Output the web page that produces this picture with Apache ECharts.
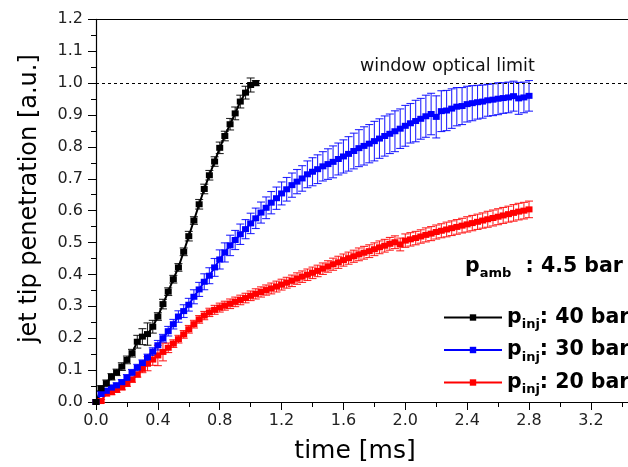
<!DOCTYPE html>
<html>
<head>
<meta charset="utf-8">
<script src="https://cdn.jsdelivr.net/npm/echarts@6/dist/echarts.min.js"></script>
<style>
  html, body { margin: 0; padding: 0; background: #fff; }
  #chart { width: 628px; height: 467px; }
</style>
</head>
<body>
<div id="chart"></div>
<script>
// Frame times of the high-speed recording [ms]
const timeMs = [
  0, 0.033, 0.067, 0.1, 0.133, 0.167, 0.2, 0.233, 0.267, 0.3,
  0.333, 0.367, 0.4, 0.433, 0.467, 0.5, 0.533, 0.567, 0.6, 0.633,
  0.667, 0.7, 0.733, 0.767, 0.8, 0.833, 0.867, 0.9, 0.933, 0.967,
  1.0, 1.033, 1.067, 1.1, 1.133, 1.167, 1.2, 1.233, 1.267, 1.3,
  1.333, 1.367, 1.4, 1.433, 1.467, 1.5, 1.533, 1.567, 1.6, 1.633,
  1.667, 1.7, 1.733, 1.767, 1.8, 1.833, 1.867, 1.9, 1.933, 1.967,
  2.0, 2.033, 2.067, 2.1, 2.133, 2.167, 2.2, 2.233, 2.267, 2.3,
  2.333, 2.367, 2.4, 2.433, 2.467, 2.5, 2.533, 2.567, 2.6, 2.633,
  2.667, 2.7, 2.733, 2.767, 2.8
];

// Jet tip penetration, p_inj = 40 bar (mean and std. deviation)
const pInj40 = [
  0, 0.043, 0.059, 0.079, 0.093, 0.111, 0.132, 0.153, 0.189, 0.205,
  0.213, 0.236, 0.268, 0.307, 0.346, 0.385, 0.422, 0.471, 0.520, 0.569,
  0.620, 0.668, 0.711, 0.754, 0.797, 0.834, 0.871, 0.905, 0.942, 0.970,
  0.994, 1.000
];
const pInj40Err = [
  0, 0.008, 0.010, 0.010, 0.010, 0.012, 0.012, 0.012, 0.020, 0.025,
  0.035, 0.020, 0.012, 0.015, 0.012, 0.012, 0.012, 0.012, 0.015, 0.012,
  0.015, 0.015, 0.015, 0.015, 0.018, 0.015, 0.018, 0.020, 0.020, 0.020,
  0.022, 0.008
];

// p_inj = 30 bar
const pInj30 = [
  0, 0.025, 0.035, 0.045, 0.052, 0.062, 0.076, 0.092, 0.108, 0.122,
  0.140, 0.158, 0.178, 0.200, 0.222, 0.244, 0.268, 0.285, 0.305, 0.330,
  0.353, 0.377, 0.396, 0.422, 0.447, 0.469, 0.491, 0.508, 0.526, 0.542,
  0.560, 0.576, 0.594, 0.609, 0.625, 0.639, 0.654, 0.667, 0.680, 0.691,
  0.701, 0.714, 0.722, 0.730, 0.739, 0.746, 0.753, 0.762, 0.770, 0.778,
  0.787, 0.796, 0.803, 0.810, 0.818, 0.826, 0.834, 0.841, 0.849, 0.857,
  0.866, 0.874, 0.881, 0.888, 0.896, 0.903, 0.894, 0.912, 0.914, 0.920,
  0.926, 0.928, 0.934, 0.937, 0.940, 0.942, 0.946, 0.948, 0.951, 0.953,
  0.955, 0.959, 0.952, 0.955, 0.960
];
const pInj30Err = [
  0, 0.008, 0.008, 0.008, 0.008, 0.008, 0.010, 0.010, 0.010, 0.010,
  0.010, 0.012, 0.015, 0.012, 0.015, 0.015, 0.018, 0.020, 0.020, 0.022,
  0.022, 0.025, 0.025, 0.028, 0.030, 0.030, 0.032, 0.030, 0.032, 0.030,
  0.032, 0.032, 0.033, 0.034, 0.035, 0.035, 0.036, 0.037, 0.038, 0.038,
  0.040, 0.042, 0.044, 0.045, 0.046, 0.048, 0.050, 0.050, 0.052, 0.054,
  0.056, 0.058, 0.060, 0.060, 0.062, 0.062, 0.063, 0.062, 0.064, 0.062,
  0.064, 0.062, 0.065, 0.064, 0.066, 0.065, 0.066, 0.064, 0.063, 0.062,
  0.060, 0.058, 0.056, 0.055, 0.053, 0.052, 0.050, 0.050, 0.050, 0.048,
  0.048, 0.047, 0.050, 0.048, 0.048
];

// p_inj = 20 bar
const pInj20 = [
  0, 0.003, 0.027, 0.031, 0.038, 0.046, 0.057, 0.070, 0.086, 0.104,
  0.120, 0.133, 0.146, 0.157, 0.170, 0.183, 0.197, 0.212, 0.228, 0.244,
  0.259, 0.271, 0.281, 0.289, 0.296, 0.302, 0.308, 0.314, 0.320, 0.326,
  0.333, 0.339, 0.345, 0.351, 0.356, 0.362, 0.368, 0.374, 0.380, 0.387,
  0.393, 0.399, 0.405, 0.411, 0.418, 0.425, 0.432, 0.438, 0.445, 0.451,
  0.457, 0.463, 0.468, 0.473, 0.479, 0.485, 0.490, 0.496, 0.501, 0.494,
  0.506, 0.510, 0.514, 0.519, 0.524, 0.528, 0.533, 0.537, 0.541, 0.545,
  0.549, 0.553, 0.557, 0.561, 0.565, 0.569, 0.573, 0.577, 0.581, 0.585,
  0.589, 0.593, 0.597, 0.600, 0.604
];
const pInj20Err = [
  0, 0.005, 0.008, 0.008, 0.008, 0.008, 0.008, 0.008, 0.008, 0.012,
  0.022, 0.018, 0.032, 0.028, 0.015, 0.012, 0.012, 0.012, 0.012, 0.012,
  0.012, 0.013, 0.013, 0.014, 0.014, 0.014, 0.015, 0.015, 0.015, 0.015,
  0.015, 0.016, 0.016, 0.016, 0.017, 0.017, 0.017, 0.017, 0.018, 0.018,
  0.018, 0.018, 0.018, 0.018, 0.018, 0.018, 0.019, 0.019, 0.019, 0.019,
  0.019, 0.020, 0.020, 0.020, 0.020, 0.020, 0.020, 0.020, 0.020, 0.020,
  0.021, 0.021, 0.021, 0.021, 0.022, 0.022, 0.022, 0.022, 0.023, 0.023,
  0.023, 0.023, 0.024, 0.024, 0.024, 0.024, 0.025, 0.025, 0.025, 0.025,
  0.025, 0.026, 0.026, 0.026, 0.026
];

const seriesNames = ['40 bar', '30 bar', '20 bar'];
const seriesColors = ['#000000', '#0000ff', '#ff0000'];
const opticalLimit = 1.0;

// Time axis: visible window ends a little past 3.4 ms
const xMax = 3.44;
const xMajorTicks = [0, 0.4, 0.8, 1.2, 1.6, 2.0, 2.4, 2.8, 3.2];
const xMinorTicks = [0.2, 0.6, 1.0, 1.4, 1.8, 2.2, 2.6, 3.0, 3.4];
const yRange = { min: 0, max: 1.2, interval: 0.1 };

const FONT = 'DejaVu Sans';

function points(vals) {
  return vals.map((v, i) => [timeMs[i], v]);
}

function errorData(vals, errs) {
  const out = [];
  vals.forEach((v, i) => {
    if (errs[i] > 0) out.push([timeMs[i], v - errs[i], v + errs[i]]);
  });
  return out;
}

function lineSeries(name, vals, color, extra) {
  return Object.assign({
    name: name,
    type: 'line',
    data: points(vals),
    symbol: 'rect',
    symbolSize: [7, 6],
    showSymbol: true,
    color: color,
    lineStyle: { color: color, width: 2 },
    itemStyle: { color: color },
    z: 3
  }, extra || {});
}

function errorSeries(vals, errs, color) {
  return {
    type: 'custom',
    data: errorData(vals, errs),
    encode: { x: 0, y: [1, 2] },
    silent: true,
    z: 2,
    renderItem: function (params, api) {
      const x = api.value(0);
      const lo = api.coord([x, api.value(1)]);
      const hi = api.coord([x, api.value(2)]);
      const half = 4;
      const style = { stroke: color, lineWidth: 1.1, opacity: 0.85 };
      return {
        type: 'group',
        children: [
          { type: 'line', shape: { x1: lo[0], y1: lo[1], x2: hi[0], y2: hi[1] }, style: style },
          { type: 'line', shape: { x1: hi[0] - half, y1: hi[1], x2: hi[0] + half, y2: hi[1] }, style: style },
          { type: 'line', shape: { x1: lo[0] - half, y1: lo[1], x2: lo[0] + half, y2: lo[1] }, style: style }
        ]
      };
    }
  };
}

const chart = echarts.init(document.getElementById('chart'), null, { renderer: 'canvas' });

const subRich = {
  p: { fontFamily: FONT, fontWeight: 'bold', fontSize: 20.5, color: '#000', lineHeight: 28 },
  s: { fontFamily: FONT, fontWeight: 'bold', fontSize: 13, color: '#000', lineHeight: 13, verticalAlign: 'bottom' }
};

const tickLine = { color: '#000', width: 1 };

const option = {
  animation: false,
  backgroundColor: '#fff',
  grid: { left: 96, top: 19.3, right: 0, bottom: 65, containLabel: false, outerBoundsMode: 'none' },
  xAxis: [
    {
      type: 'value',
      min: 0, max: xMax,
      position: 'bottom',
      name: 'time [ms]',
      nameLocation: 'middle',
      nameGap: 37,
      nameTextStyle: { fontFamily: FONT, fontSize: 25, color: '#000', padding: [0, 14, 0, 0] },
      axisLine: { show: true, onZero: false, lineStyle: { color: '#000', width: 1.2 } },
      axisTick: { show: true, inside: false, length: 8, customValues: xMajorTicks, lineStyle: tickLine },
      axisLabel: {
        margin: 11, fontFamily: FONT, fontSize: 16, color: '#222',
        customValues: xMajorTicks,
        formatter: v => v.toFixed(1)
      },
      splitLine: { show: false }
    },
    {
      // minor ticks of the time axis
      type: 'value',
      min: 0, max: xMax,
      position: 'bottom',
      axisLine: { show: false, onZero: false },
      axisTick: { show: true, inside: false, length: 5, customValues: xMinorTicks, lineStyle: tickLine },
      axisLabel: { show: false },
      splitLine: { show: false }
    },
    {
      // top frame line
      type: 'value',
      min: 0, max: xMax,
      position: 'top',
      axisLine: { show: true, onZero: false, lineStyle: { color: '#000', width: 1.2 } },
      axisTick: { show: false },
      axisLabel: { show: false },
      splitLine: { show: false }
    }
  ],
  yAxis: {
    type: 'value',
    min: yRange.min, max: yRange.max, interval: yRange.interval,
    name: 'jet tip penetration [a.u.]',
    nameLocation: 'middle',
    nameGap: 54,
    nameTextStyle: { fontFamily: FONT, fontSize: 24, color: '#000', padding: [0, 0, 0, 24] },
    axisLine: { show: true, onZero: false, lineStyle: { color: '#000', width: 1.2 } },
    axisTick: { show: true, inside: false, length: 8, lineStyle: tickLine },
    minorTick: { show: true, splitNumber: 2, length: 5, lineStyle: tickLine },
    axisLabel: {
      margin: 13, fontFamily: FONT, fontSize: 16, color: '#222',
      formatter: v => v.toFixed(1)
    },
    splitLine: { show: false }
  },
  legend: {
    orient: 'vertical',
    left: 443,
    top: 307,
    padding: 0,
    itemWidth: 58,
    itemHeight: 8,
    itemGap: 8,
    data: seriesNames,
    formatter: name => '{p|p}{s|inj}{p|: ' + name + '}',
    textStyle: { rich: subRich }
  },
  graphic: [
    {
      type: 'text',
      left: 360,
      top: 57,
      style: { text: 'window optical limit', fontFamily: FONT, fontSize: 17.5, fill: '#111' }
    },
    {
      type: 'text',
      left: 465,
      top: 256,
      style: {
        text: '{p|p}{s|amb}{p|  : 4.5 bar}',
        rich: subRich
      }
    }
  ],
  series: [
    lineSeries(seriesNames[2], pInj20, seriesColors[2]),
    errorSeries(pInj20, pInj20Err, seriesColors[2]),
    lineSeries(seriesNames[1], pInj30, seriesColors[1]),
    errorSeries(pInj30, pInj30Err, seriesColors[1]),
    lineSeries(seriesNames[0], pInj40, seriesColors[0], {
      markLine: {
        silent: true,
        symbol: 'none',
        label: { show: false },
        lineStyle: { color: '#000', type: [3, 3], width: 1 },
        data: [{ yAxis: opticalLimit }]
      }
    }),
    errorSeries(pInj40, pInj40Err, seriesColors[0])
  ]
};

chart.setOption(option);
</script>
</body>
</html>
